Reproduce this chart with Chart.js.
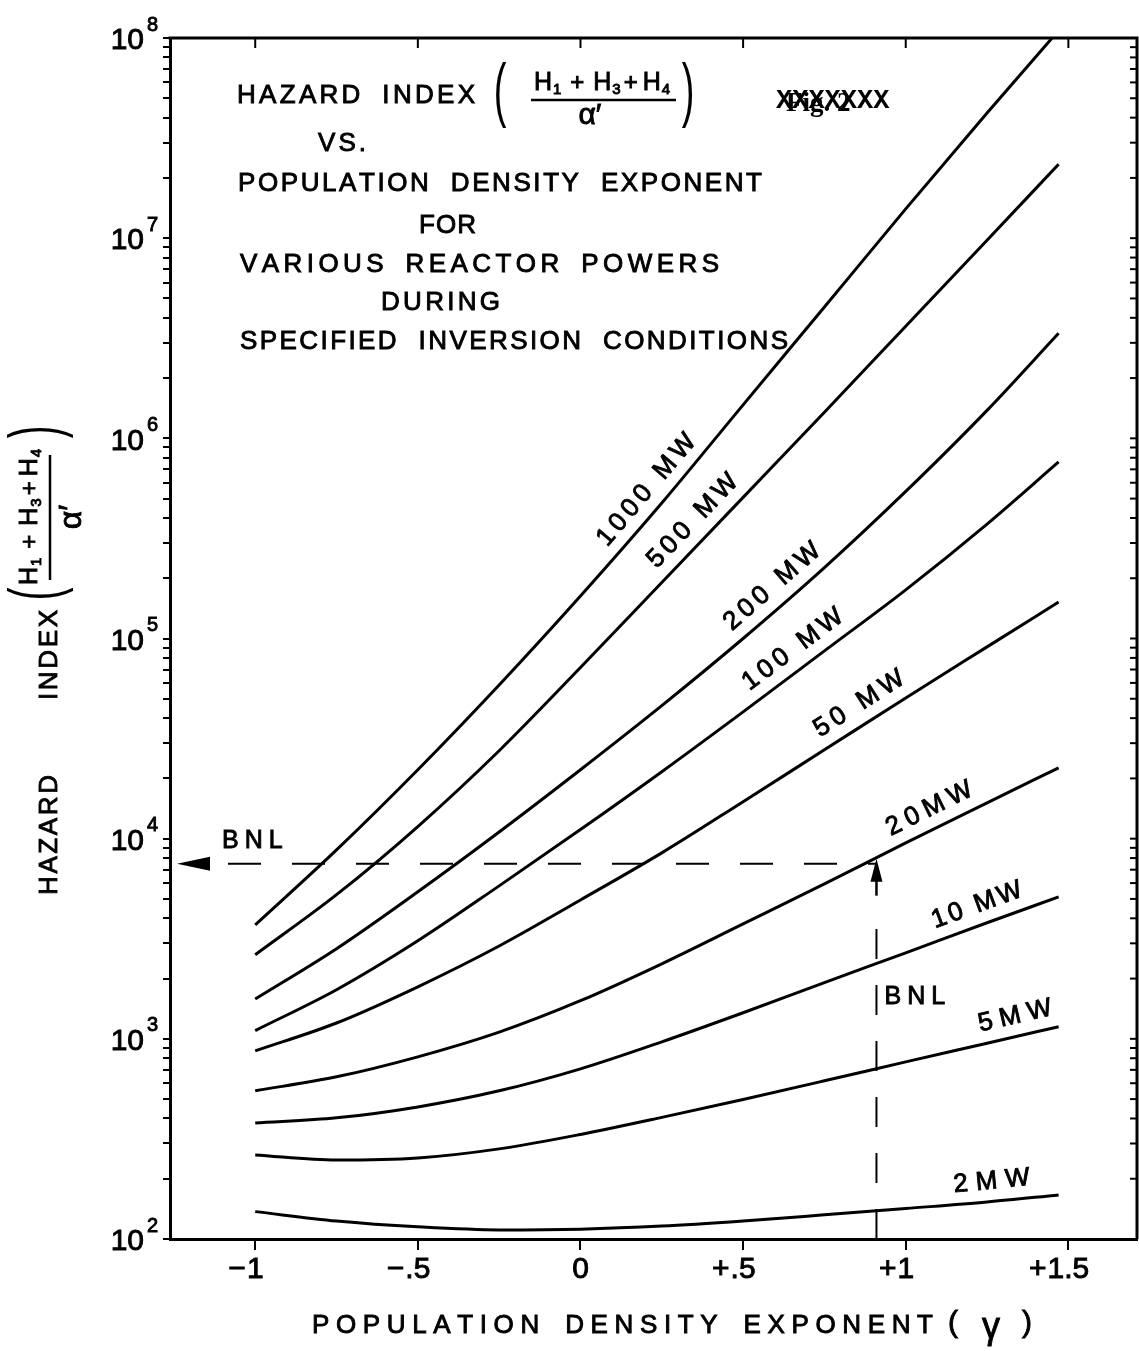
<!DOCTYPE html>
<html>
<head>
<meta charset="utf-8">
<title>Hazard Index vs. Population Density Exponent</title>
<script src="https://cdn.jsdelivr.net/npm/chart.js@4.4.1/dist/chart.umd.min.js"></script>
<style>
  html, body { margin: 0; padding: 0; background: #fff; }
  #box { width: 1139px; height: 1351px; }
</style>
</head>
<body>
<div id="box"><canvas id="chart" width="1139" height="1351"></canvas></div>
<script>
// Population density exponent (gamma) at which the curves are sampled
const gamma = [-1, -0.75, -0.5, -0.25, 0, 0.25, 0.5, 0.75, 1, 1.25, 1.47];
// the 1000 MW curve runs off the top of the grid a little earlier
const gamma1000 = [-1, -0.75, -0.5, -0.25, 0, 0.25, 0.5, 0.75, 1, 1.25, 1.45];

const powerLabels = ['1000 MW', '500 MW', '200 MW', '100 MW', '50 MW', '20MW', '10 MW', '5MW', '2MW'];

// Hazard index (H1+H3+H4)/alpha' for each reactor power
const hazard1000 = [3710, 8790, 22100, 58600, 163000, 475000, 1470000, 4530000, 14000000, 42200000, 100000000];
const hazard500  = [2630, 5250, 11500, 27500, 71600, 190500, 507000, 1350000, 3630000, 9770000, 23400000];
const hazard200  = [1580, 2820, 5430, 10800, 22100, 46200, 100000, 226000, 543000, 1380000, 3350000];
const hazard100  = [1100, 1760, 3090, 5810, 11100, 21600, 43000, 86700, 175000, 373000, 762000];
const hazard50   = [871, 1200, 1820, 2910, 4940, 8490, 15300, 27800, 50500, 90800, 152000];
const hazard20   = [550, 646, 813, 1080, 1550, 2370, 3750, 5940, 9530, 15100, 22600];
const hazard10   = [380, 403, 457, 550, 708, 966, 1350, 1910, 2690, 3800, 5120];
const hazard5    = [263, 248, 254, 282, 333, 405, 498, 617, 767, 951, 1150];
const hazard2    = [137, 123, 115, 111, 112, 116, 123, 132, 142, 153, 166];

const xTickValues = [-1, -0.5, 0, 0.5, 1, 1.5];
const xTickLabels = ['\u22121', '\u2212.5', '0', '+.5', '+1', '+1.5'];
const yDecades = [2, 3, 4, 5, 6, 7, 8];

// BNL operating point
const bnlGamma = 0.91;
const bnlHazard = 7500;

const FONT = '"Liberation Sans", Arial, Helvetica, sans-serif';
const INK = 0.9;   // extra stroke so the lettering reads like pen lettering

const curves = [
  { label: powerLabels[0], xs: gamma1000, ys: hazard1000 },
  { label: powerLabels[1], xs: gamma, ys: hazard500 },
  { label: powerLabels[2], xs: gamma, ys: hazard200 },
  { label: powerLabels[3], xs: gamma, ys: hazard100 },
  { label: powerLabels[4], xs: gamma, ys: hazard50 },
  { label: powerLabels[5], xs: gamma, ys: hazard20 },
  { label: powerLabels[6], xs: gamma, ys: hazard10 },
  { label: powerLabels[7], xs: gamma, ys: hazard5 },
  { label: powerLabels[8], xs: gamma, ys: hazard2 }
];

// where each curve name sits along its curve, and letter spacing
const labelStyle = [
  { at: 0.25, gap: 4.5 }, { at: 0.39, gap: 4.5 }, { at: 0.63, gap: 4.5 },
  { at: 0.69, gap: 4.5 }, { at: 0.89, gap: 5 },   { at: 1.10, gap: 6 },
  { at: 1.24, gap: 3 },   { at: 1.35, gap: 7 },   { at: 1.27, gap: 8 }
];

// ---------- lettering helpers ----------
function setFont(ctx, size, weight, family) {
  ctx.font = (weight || 'normal') + ' ' + size + 'px ' + (family || FONT);
}
function put(ctx, ch, x, y) {
  ctx.fillText(ch, x, y);
  ctx.lineWidth = INK;
  ctx.strokeText(ch, x, y);
}
function fitLine(ctx, text, x0, x1, y, size, wordGap) {
  setFont(ctx, size);
  ctx.textAlign = 'left';
  ctx.textBaseline = 'middle';
  const words = text.split(' ');
  let w = 0, gaps = 0;
  words.forEach(wd => { for (const ch of wd) w += ctx.measureText(ch).width; gaps += wd.length - 1; });
  const sp = gaps > 0 ? (x1 - x0 - w - wordGap * (words.length - 1)) / gaps : 0;
  let cx = x0;
  words.forEach(wd => {
    const chars = [...wd];
    chars.forEach((ch, i) => {
      put(ctx, ch, cx, y);
      cx += ctx.measureText(ch).width + (i < chars.length - 1 ? sp : 0);
    });
    cx += wordGap;
  });
}
// runs: [text, size, dy, gapAfter]
function runsWidth(ctx, runs) {
  let w = 0;
  runs.forEach(([t, size, dy, gap]) => { setFont(ctx, size); w += ctx.measureText(t).width + gap; });
  return w - runs[runs.length - 1][3];
}
function drawRunsCentered(ctx, runs, cx, y) {
  const w = runsWidth(ctx, runs);
  ctx.textAlign = 'left';
  ctx.textBaseline = 'middle';
  let x = cx - w / 2;
  runs.forEach(([t, size, dy, gap]) => {
    setFont(ctx, size);
    put(ctx, t, x, y + dy);
    x += ctx.measureText(t).width + gap;
  });
}
function spacedWidth(ctx, text, gap) {
  let w = 0;
  for (const ch of text) w += ctx.measureText(ch).width;
  return w + gap * ([...text].length - 1);
}
function drawSpaced(ctx, text, x, y, gap) {
  let cx = x;
  for (const ch of text) { put(ctx, ch, cx, y); cx += ctx.measureText(ch).width + gap; }
}
// tall, thin bracket: a normal glyph stretched vertically
function tallBracket(ctx, ch, x, y, rot) {
  ctx.save();
  ctx.translate(x, y);
  if (rot) ctx.rotate(rot);
  ctx.scale(1, 1.85);
  setFont(ctx, 38);
  ctx.textAlign = 'center';
  ctx.textBaseline = 'middle';
  ctx.fillText(ch, 0, -2);
  ctx.restore();
}

// position on a curve (log interpolation), in pixels
function curvePixel(chart, c, g) {
  const xs = c.xs, ys = c.ys;
  let i = 0;
  while (i < xs.length - 2 && g > xs[i + 1]) i++;
  const t = (g - xs[i]) / (xs[i + 1] - xs[i]);
  const lv = Math.log10(ys[i]) + t * (Math.log10(ys[i + 1]) - Math.log10(ys[i]));
  return { x: chart.scales.x.getPixelForValue(g), y: chart.scales.y.getPixelForValue(Math.pow(10, lv)) };
}

const numerator = [
  ['H', 25, 0, 1], ['1', 15, 7, 9], ['+', 24, 0, 9],
  ['H', 25, 0, 1], ['3', 15, 7, 3], ['+', 24, 0, 5],
  ['H', 25, 0, 1], ['4', 15, 7, 0]
];

const figurePlugin = {
  id: 'figureLettering',
  afterDraw(chart) {
    const ctx = chart.ctx;
    const a = chart.chartArea;
    const xs = chart.scales.x, ys = chart.scales.y;
    ctx.save();
    ctx.fillStyle = '#000';
    ctx.strokeStyle = '#000';
    ctx.lineCap = 'butt';

    // top and right edges of the frame
    ctx.lineWidth = 3;
    ctx.beginPath();
    ctx.moveTo(a.left - 1.5, a.top);
    ctx.lineTo(a.right, a.top);
    ctx.lineTo(a.right, a.bottom);
    ctx.stroke();

    // inward ticks on the top edge
    ctx.lineWidth = 2;
    xTickValues.forEach(v => {
      const px = xs.getPixelForValue(v);
      ctx.beginPath(); ctx.moveTo(px, a.top); ctx.lineTo(px, a.top + 10); ctx.stroke();
    });
    // inward ticks on the right edge
    ys.ticks.forEach(t => {
      const py = ys.getPixelForValue(t.value);
      ctx.beginPath(); ctx.moveTo(a.right, py); ctx.lineTo(a.right - 7, py); ctx.stroke();
    });

    // gamma tick labels: the number sits under its tick, the sign hangs to the left
    setFont(ctx, 30);
    ctx.textBaseline = 'middle';
    xTickValues.forEach((v, i) => {
      const px = xs.getPixelForValue(v);
      const txt = xTickLabels[i];
      const signed = txt[0] === '+' || txt[0] === '\u2212';
      const num = signed ? txt.slice(1) : txt;
      ctx.textAlign = 'center';
      put(ctx, num, px, a.bottom + 31);
      if (signed) {
        const nw = ctx.measureText(num).width;
        ctx.textAlign = 'right';
        put(ctx, txt[0], px - nw / 2 - 1, a.bottom + 31);
      }
    });

    // decade labels 10^n
    yDecades.forEach(d => {
      const py = ys.getPixelForValue(Math.pow(10, d));
      ctx.textBaseline = 'middle';
      setFont(ctx, 30);
      ctx.textAlign = 'right';
      put(ctx, '10', a.left - 26, py + 3);
      setFont(ctx, 20);
      ctx.textAlign = 'left';
      put(ctx, String(d), a.left - 23, py - 13);
    });

    // curve names
    curves.forEach((c, k) => {
      const st = labelStyle[k];
      const p = curvePixel(chart, c, st.at);
      const p0 = curvePixel(chart, c, st.at - 0.03);
      const p1 = curvePixel(chart, c, st.at + 0.03);
      const ang = Math.atan2(p1.y - p0.y, p1.x - p0.x);
      const off = 20;
      const cx = p.x + off * Math.sin(ang);
      const cy = p.y - off * Math.cos(ang);
      ctx.save();
      ctx.translate(cx, cy);
      ctx.rotate(ang);
      setFont(ctx, 26);
      ctx.textAlign = 'left';
      ctx.textBaseline = 'middle';
      const w = spacedWidth(ctx, c.label, st.gap);
      drawSpaced(ctx, c.label, -w / 2, 0, st.gap);
      ctx.restore();
    });

    // title block
    const titleLines = [
      ['HAZARD INDEX', 237, 475, 96],
      ['VS.', 318, 366, 144],
      ['POPULATION DENSITY EXPONENT', 238, 762, 184],
      ['FOR', 419, 476, 226],
      ['VARIOUS REACTOR POWERS', 240, 719, 265],
      ['DURING', 381, 500, 303],
      ['SPECIFIED INVERSION CONDITIONS', 240, 788, 342]
    ];
    titleLines.forEach(([t, x0, x1, y]) => fitLine(ctx, t, x0, x1, y, 26, 22));

    // fraction in the title
    tallBracket(ctx, '(', 500, 97, 0);
    tallBracket(ctx, ')', 688, 97, 0);
    drawRunsCentered(ctx, numerator, 602, 83);
    ctx.lineWidth = 2.5;
    ctx.beginPath(); ctx.moveTo(531, 100); ctx.lineTo(676, 100); ctx.stroke();
    setFont(ctx, 30);
    ctx.textAlign = 'center';
    ctx.textBaseline = 'middle';
    put(ctx, '\u03b1\u2032', 590, 116);

    // struck-out figure number
    ctx.textAlign = 'left';
    ctx.textBaseline = 'middle';
    setFont(ctx, 27, 'bold', '"Liberation Serif", "Times New Roman", serif');
    ctx.fillText('Fig. 2', 786, 104);
    setFont(ctx, 27, 'bold', '"Liberation Mono", "Courier New", monospace');
    ctx.fillText('XXXXXXX', 776, 101);

    // y axis title (rotated; in this frame x runs upward, screen y = -x)
    ctx.save();
    ctx.translate(50, 0);
    ctx.rotate(-Math.PI / 2);
    fitLine(ctx, 'HAZARD', -895, -775, 0, 26, 0);
    fitLine(ctx, 'INDEX', -700, -610, 0, 26, 0);
    ctx.restore();
    tallBracket(ctx, '(', 42, 594, -Math.PI / 2);
    tallBracket(ctx, ')', 42, 432, -Math.PI / 2);
    ctx.save();
    ctx.translate(30, 517);
    ctx.rotate(-Math.PI / 2);
    drawRunsCentered(ctx, numerator, 0, 0);
    ctx.restore();
    ctx.lineWidth = 2.5;
    ctx.beginPath(); ctx.moveTo(50, 455); ctx.lineTo(50, 580); ctx.stroke();
    ctx.save();
    ctx.translate(72, 517);
    ctx.rotate(-Math.PI / 2);
    setFont(ctx, 32);
    ctx.textAlign = 'center';
    ctx.textBaseline = 'middle';
    put(ctx, '\u03b1\u2032', 0, 0);
    ctx.restore();

    // x axis title
    fitLine(ctx, 'POPULATION DENSITY EXPONENT', 312, 933, 1326, 26, 26);
    setFont(ctx, 30);
    ctx.textAlign = 'center';
    ctx.textBaseline = 'middle';
    put(ctx, '(', 953, 1324);
    put(ctx, ')', 1027, 1324);
    setFont(ctx, 36);
    put(ctx, '\u03b3', 991, 1328);

    // BNL guide lines
    const xb = xs.getPixelForValue(bnlGamma);
    const yb = ys.getPixelForValue(bnlHazard);
    const tip = curvePixel(chart, curves[5], bnlGamma);
    ctx.lineWidth = 2;
    ctx.setLineDash([33, 31]);
    ctx.beginPath(); ctx.moveTo(a.left + 58, yb); ctx.lineTo(xb, yb); ctx.stroke();
    ctx.setLineDash([30, 26]);
    ctx.beginPath(); ctx.moveTo(xb, a.bottom); ctx.lineTo(xb, tip.y + 60); ctx.stroke();
    ctx.setLineDash([]);
    ctx.lineWidth = 2.5;
    ctx.beginPath(); ctx.moveTo(xb, tip.y + 38); ctx.lineTo(xb, tip.y + 20); ctx.stroke();
    // arrow heads
    ctx.beginPath();
    ctx.moveTo(xb, tip.y + 1);
    ctx.lineTo(xb - 6, tip.y + 24);
    ctx.lineTo(xb + 6, tip.y + 24);
    ctx.closePath(); ctx.fill();
    ctx.beginPath();
    ctx.moveTo(a.left + 7, yb);
    ctx.lineTo(a.left + 40, yb - 7);
    ctx.lineTo(a.left + 40, yb + 7);
    ctx.closePath(); ctx.fill();
    setFont(ctx, 25);
    ctx.textAlign = 'left';
    ctx.textBaseline = 'middle';
    drawSpaced(ctx, 'BNL', a.left + 52, yb - 23, 6);
    drawSpaced(ctx, 'BNL', xb + 8, yb + 133, 6);

    ctx.restore();
  }
};

const datasets = curves.map(c => ({
  label: c.label,
  data: c.xs.map((g, i) => ({ x: g, y: c.ys[i] })),
  borderColor: '#000',
  borderWidth: 3,
  pointRadius: 0,
  fill: false,
  cubicInterpolationMode: 'monotone'
}));

new Chart(document.getElementById('chart'), {
  type: 'line',
  data: { datasets },
  options: {
    responsive: false,
    animation: false,
    devicePixelRatio: 1,
    layout: { padding: { left: 0, top: 38, right: 2, bottom: 0 } },
    plugins: { legend: { display: false }, tooltip: { enabled: false } },
    scales: {
      x: {
        type: 'linear',
        position: 'bottom',
        min: -1.262,
        max: 1.711,
        afterBuildTicks: s => { s.ticks = xTickValues.map(v => ({ value: v })); },
        afterFit: s => { s.height = 112; },
        ticks: { display: false, autoSkip: false },
        grid: { drawOnChartArea: false, drawTicks: true, tickLength: 11, color: '#000', lineWidth: 2 },
        border: { display: true, color: '#000', width: 3 }
      },
      y: {
        type: 'logarithmic',
        position: 'left',
        min: 100,
        max: 1e8,
        afterBuildTicks: s => {
          const t = [];
          for (let d = 2; d < 8; d++) for (let m = 1; m < 10; m++) t.push({ value: m * Math.pow(10, d) });
          t.push({ value: 1e8 });
          s.ticks = t;
        },
        afterFit: s => { s.width = 170; },
        ticks: { callback: () => '', autoSkip: false },
        grid: { drawOnChartArea: false, drawTicks: true, tickLength: 7, color: '#000', lineWidth: 2 },
        border: { display: true, color: '#000', width: 3 }
      }
    }
  },
  plugins: [figurePlugin]
});
</script>
</body>
</html>
